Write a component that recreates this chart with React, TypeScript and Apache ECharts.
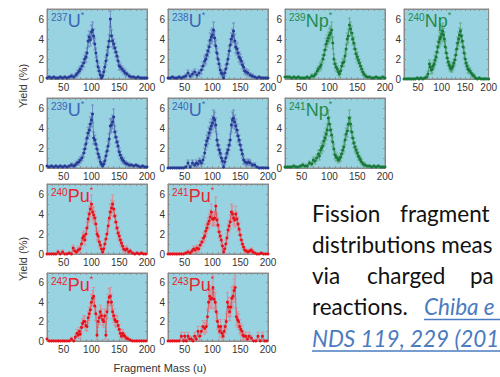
import React, { useEffect, useRef } from "react";
import * as echarts from "echarts";

// [mass, yield %, error]
const u237 = [[20,0.1,0.1],[24,0.2,0.1],[28,0.1,0.1],[32,0.2,0.1],[36,0.1,0.1],[40,0.1,0.1],[44,0.2,0.1],[48,0.1,0.1],[52,0.2,0.1],[56,0.1,0.1],[60,0.2,0.1],[64,0.3,0.2],[68,0.2,0.2],[72,0.4,0.2],[75,0.6,0.3],[78,0.8,0.3],[80,1.0,0.3],[83,1.3,0.4],[86,1.6,0.4],[88,2.0,0.4],[90,2.2,0.5],[92,2.6,0.5],[94,3.8,0.6],[96,4.2,0.6],[98,3.9,0.6],[100,4.7,0.7],[102,4.9,0.8],[104,4.3,0.7],[106,3.5,0.6],[108,2.6,0.5],[110,1.8,0.5],[112,1.2,0.4],[114,0.8,0.3],[116,0.4,0.3],[118,0.1,0.2],[120,0.3,0.2],[122,0.7,0.3],[124,1.2,0.4],[126,1.8,0.4],[128,2.4,0.5],[130,3.2,0.6],[132,3.8,0.6],[134,6.0,0.8],[136,4.3,0.6],[138,3.8,0.6],[140,3.5,0.5],[142,3.1,0.5],[144,2.7,0.5],[146,2.3,0.4],[148,1.8,0.4],[150,1.3,0.4],[152,1.2,0.3],[155,1.0,0.3],[158,0.8,0.3],[161,0.6,0.3],[164,0.5,0.2],[168,0.3,0.2],[172,0.2,0.1],[176,0.2,0.1],[180,0.1,0.1],[184,0.2,0.1],[188,0.1,0.1],[192,0.1,0.1],[196,0.1,0.1],[200,0.1,0.1]];
const u238 = [[20,0.1,0.1],[24,0.1,0.1],[28,0.2,0.1],[32,0.1,0.1],[36,0.1,0.1],[40,0.2,0.1],[44,0.1,0.1],[48,0.2,0.1],[52,0.3,0.2],[56,0.6,0.3],[60,0.3,0.2],[64,0.5,0.3],[68,0.7,0.3],[72,0.4,0.3],[76,0.6,0.3],[80,0.9,0.4],[83,1.3,0.4],[86,1.8,0.5],[88,2.0,0.5],[90,2.4,0.5],[92,2.8,0.6],[94,3.2,0.6],[96,3.9,0.7],[98,4.2,0.7],[100,4.4,0.7],[102,4.9,0.8],[104,4.1,0.7],[106,3.3,0.6],[108,2.6,0.5],[110,2.0,0.5],[112,1.5,0.4],[114,0.9,0.4],[116,0.6,0.3],[118,0.5,0.3],[120,0.1,0.2],[122,0.6,0.3],[124,1.0,0.4],[126,1.5,0.4],[128,2.0,0.5],[130,2.8,0.5],[132,3.4,0.6],[134,4.0,0.6],[136,4.3,0.7],[138,4.8,0.8],[140,3.8,0.7],[142,3.2,0.6],[144,3.0,0.6],[146,2.6,0.5],[148,2.2,0.5],[150,2.0,0.5],[152,1.8,0.4],[154,1.4,0.4],[156,1.2,0.4],[158,0.8,0.3],[161,0.7,0.3],[164,0.6,0.3],[168,0.4,0.2],[172,0.3,0.2],[176,0.2,0.1],[180,0.1,0.1],[184,0.2,0.1],[188,0.1,0.1],[192,0.1,0.1],[196,0.1,0.1],[200,0.1,0.1]];
const np239 = [[20,0.2,0.1],[24,0.2,0.1],[28,0.2,0.1],[32,0.1,0.1],[36,0.2,0.1],[40,0.1,0.1],[44,0.2,0.1],[48,0.1,0.1],[52,0.1,0.1],[56,0.1,0.1],[60,0.2,0.1],[64,0.1,0.1],[68,0.3,0.2],[72,0.3,0.2],[75,0.5,0.2],[78,0.8,0.3],[80,1.0,0.3],[83,1.2,0.4],[85,1.4,0.4],[88,2.0,0.4],[90,2.4,0.5],[92,2.9,0.5],[94,3.5,0.6],[96,3.8,0.6],[98,4.1,0.6],[100,4.4,0.7],[102,4.6,0.7],[104,4.9,0.8],[106,3.6,0.6],[108,2.0,0.5],[110,1.5,0.4],[112,1.2,0.4],[114,1.0,0.3],[116,0.7,0.3],[118,0.5,0.3],[120,0.8,0.3],[122,1.3,0.4],[124,1.6,0.4],[126,1.7,0.4],[128,2.3,0.5],[130,3.0,0.5],[132,4.0,0.6],[134,4.3,0.7],[136,5.4,0.7],[138,5.0,0.7],[140,4.6,0.7],[142,4.0,0.6],[144,3.6,0.6],[146,3.0,0.5],[148,2.5,0.5],[150,2.2,0.5],[152,1.9,0.4],[154,1.6,0.4],[156,1.3,0.4],[158,1.0,0.3],[160,0.7,0.3],[162,0.5,0.2],[165,0.3,0.2],[168,0.2,0.1],[172,0.2,0.1],[176,0.1,0.1],[180,0.1,0.1],[184,0.2,0.1],[188,0.1,0.1],[192,0.1,0.1],[196,0.2,0.1],[200,0.1,0.1]];
const np240 = [[20,0.0,0.1],[24,0.0,0.1],[28,0.0,0.1],[32,0.0,0.1],[36,0.0,0.1],[40,0.0,0.1],[44,0.0,0.1],[48,0.1,0.1],[52,0.0,0.1],[56,0.1,0.1],[60,0.0,0.1],[64,0.1,0.1],[68,0.2,0.2],[71,0.5,0.3],[74,1.5,0.4],[76,1.2,0.4],[78,0.9,0.4],[80,1.0,0.4],[82,1.3,0.4],[84,1.5,0.4],[86,1.9,0.5],[88,2.2,0.5],[90,2.7,0.6],[92,3.2,0.6],[94,3.7,0.6],[96,4.0,0.7],[98,4.2,0.7],[100,4.5,0.7],[102,4.8,0.8],[104,4.4,0.7],[106,4.0,0.7],[108,3.2,0.6],[110,2.6,0.5],[112,2.1,0.5],[114,1.7,0.4],[116,1.4,0.4],[118,1.2,0.4],[120,1.0,0.3],[122,1.1,0.4],[124,1.3,0.4],[126,1.6,0.4],[128,1.9,0.5],[130,2.4,0.5],[132,3.0,0.6],[134,3.6,0.6],[136,4.0,0.7],[138,4.4,0.7],[140,4.8,0.8],[142,4.3,0.7],[144,3.8,0.6],[146,3.2,0.6],[148,2.6,0.5],[150,2.0,0.5],[152,1.6,0.4],[154,1.3,0.4],[156,1.0,0.4],[158,0.9,0.3],[160,0.8,0.3],[163,0.6,0.3],[166,0.4,0.2],[169,0.3,0.2],[172,0.1,0.1],[176,0.0,0.1],[180,0.1,0.1],[184,0.0,0.1],[188,0.0,0.1],[192,0.0,0.1],[196,0.0,0.1],[200,0.0,0.1]];
const u239 = [[20,0.2,0.1],[24,0.1,0.1],[28,0.2,0.1],[32,0.1,0.1],[36,0.2,0.1],[40,0.1,0.1],[44,0.2,0.1],[48,0.1,0.1],[52,0.2,0.1],[56,0.1,0.1],[60,0.2,0.1],[64,0.3,0.2],[68,0.2,0.2],[71,0.3,0.2],[74,0.5,0.2],[77,0.6,0.3],[80,0.8,0.3],[83,1.0,0.3],[86,1.5,0.4],[88,1.9,0.4],[90,2.4,0.5],[92,3.0,0.5],[94,3.5,0.6],[96,3.8,0.6],[98,4.4,0.7],[100,4.8,0.7],[102,5.4,0.9],[104,3.0,0.6],[106,2.8,0.5],[108,2.4,0.5],[110,1.9,0.4],[112,1.4,0.4],[114,1.1,0.3],[116,0.6,0.3],[118,0.4,0.2],[120,0.2,0.2],[122,0.4,0.2],[124,0.7,0.3],[126,1.2,0.4],[128,1.7,0.4],[130,2.2,0.5],[132,2.9,0.5],[134,4.2,0.7],[136,4.3,0.7],[138,4.6,0.7],[140,5.1,0.8],[142,3.6,0.6],[144,3.1,0.6],[146,2.6,0.5],[148,2.2,0.5],[150,1.6,0.4],[152,1.3,0.4],[154,1.0,0.3],[156,0.8,0.3],[158,0.7,0.3],[161,0.5,0.2],[164,0.4,0.2],[168,0.3,0.2],[172,0.3,0.1],[176,0.2,0.1],[180,0.3,0.1],[184,0.2,0.1],[188,0.1,0.1],[192,0.2,0.1],[196,0.1,0.1],[200,0.1,0.1]];
const u240 = [[20,0.0,0.1],[24,0.0,0.1],[28,0.0,0.1],[32,0.0,0.1],[36,0.0,0.1],[40,0.0,0.1],[44,0.0,0.1],[48,0.0,0.1],[52,0.1,0.1],[56,0.5,0.3],[60,0.1,0.2],[64,0.5,0.3],[68,0.3,0.2],[71,0.5,0.3],[74,0.4,0.3],[77,0.7,0.3],[80,0.5,0.3],[83,0.8,0.4],[86,1.5,0.5],[88,2.3,0.5],[90,2.7,0.6],[92,3.0,0.6],[94,3.5,0.6],[96,3.9,0.7],[98,4.2,0.7],[100,4.5,0.7],[102,5.0,0.8],[104,4.8,0.8],[106,4.3,0.7],[108,2.8,0.6],[110,2.3,0.5],[112,1.8,0.5],[114,1.5,0.4],[116,1.0,0.4],[118,0.7,0.3],[120,0.1,0.2],[122,0.6,0.3],[124,1.0,0.4],[126,1.5,0.4],[128,1.8,0.5],[130,2.3,0.5],[132,2.8,0.6],[134,4.3,0.7],[136,4.8,0.8],[138,5.0,0.8],[140,4.6,0.7],[142,4.2,0.7],[144,3.8,0.6],[146,3.2,0.6],[148,2.8,0.5],[150,2.3,0.5],[152,1.8,0.5],[154,1.4,0.4],[156,0.8,0.4],[159,0.6,0.3],[162,0.5,0.3],[165,0.6,0.3],[168,0.5,0.3],[172,0.3,0.2],[176,0.3,0.2],[180,0.1,0.1],[184,0.0,0.1],[188,0.0,0.1],[192,0.0,0.1],[196,0.0,0.1],[200,0.0,0.1]];
const np241 = [[20,0.1,0.1],[24,0.1,0.1],[28,0.1,0.1],[32,0.1,0.1],[36,0.2,0.1],[40,0.1,0.1],[44,0.1,0.1],[48,0.2,0.1],[52,0.3,0.2],[56,0.2,0.1],[60,0.2,0.2],[64,0.5,0.2],[68,0.4,0.2],[71,0.8,0.3],[74,0.7,0.3],[77,1.0,0.3],[80,1.4,0.4],[82,1.2,0.4],[84,1.8,0.4],[86,2.0,0.5],[88,2.2,0.5],[90,2.7,0.5],[92,3.0,0.6],[94,3.4,0.6],[96,3.8,0.6],[98,5.0,0.8],[100,4.4,0.7],[102,3.8,0.6],[104,3.3,0.6],[106,2.6,0.5],[108,1.9,0.5],[110,1.3,0.4],[112,1.1,0.4],[114,1.0,0.3],[116,0.8,0.3],[118,0.9,0.3],[120,1.1,0.4],[122,1.4,0.4],[124,1.8,0.4],[126,2.1,0.5],[128,2.8,0.5],[130,3.4,0.6],[132,3.7,0.6],[134,4.4,0.7],[136,5.0,0.8],[138,4.4,0.7],[140,3.6,0.6],[142,3.0,0.6],[144,2.5,0.5],[146,2.1,0.5],[148,1.8,0.4],[150,1.5,0.4],[152,1.2,0.4],[154,1.0,0.3],[156,0.8,0.3],[158,0.6,0.3],[161,0.4,0.2],[164,0.3,0.2],[168,0.2,0.1],[172,0.2,0.1],[176,0.1,0.1],[180,0.2,0.1],[184,0.1,0.1],[188,0.2,0.1],[192,0.1,0.1],[196,0.1,0.1],[200,0.1,0.1]];
const pu240 = [[20,0.0,0.1],[24,0.0,0.1],[28,0.0,0.1],[32,0.0,0.1],[36,0.0,0.1],[40,0.2,0.2],[44,0.0,0.1],[48,0.2,0.2],[52,0.0,0.1],[56,0.0,0.1],[60,0.1,0.1],[64,0.0,0.1],[67,0.6,0.3],[70,0.3,0.3],[73,0.2,0.2],[76,0.4,0.3],[79,0.5,0.3],[82,1.0,0.4],[84,1.6,0.5],[86,1.8,0.5],[88,1.4,0.5],[90,2.0,0.6],[92,2.6,0.6],[94,3.5,0.7],[96,4.0,0.8],[98,4.5,0.8],[100,5.0,0.9],[102,4.2,0.8],[104,3.9,0.8],[106,3.6,0.7],[108,3.0,0.7],[110,2.0,0.6],[112,1.8,0.5],[114,1.2,0.5],[116,0.9,0.4],[118,0.5,0.3],[120,0.2,0.3],[122,0.5,0.3],[124,1.0,0.4],[126,1.5,0.5],[128,2.0,0.5],[130,2.8,0.6],[132,3.6,0.7],[134,4.2,0.8],[136,4.6,0.8],[138,5.0,0.9],[140,4.5,0.8],[142,3.8,0.7],[144,3.2,0.7],[146,2.6,0.6],[148,2.1,0.6],[150,1.8,0.5],[152,1.4,0.5],[154,1.1,0.4],[156,0.8,0.4],[158,0.5,0.3],[161,0.4,0.3],[164,0.5,0.3],[167,0.2,0.2],[170,0.3,0.2],[174,0.1,0.1],[178,0.0,0.1],[182,0.1,0.1],[186,0.0,0.1],[190,0.1,0.1],[194,0.0,0.1],[198,0.0,0.1]];
const pu241 = [[20,0.0,0.1],[24,0.0,0.1],[28,0.0,0.1],[32,0.0,0.1],[36,0.0,0.1],[40,0.0,0.1],[44,0.0,0.1],[48,0.0,0.1],[52,0.1,0.1],[56,0.2,0.2],[60,0.1,0.1],[63,0.3,0.2],[66,0.5,0.3],[69,0.4,0.3],[72,0.6,0.3],[75,0.5,0.3],[78,0.9,0.4],[81,1.2,0.4],[84,1.6,0.5],[86,1.8,0.5],[88,2.3,0.6],[90,2.6,0.6],[92,3.0,0.6],[94,3.3,0.7],[96,3.7,0.7],[98,4.2,0.8],[100,3.5,0.7],[102,3.5,0.7],[104,3.6,0.7],[106,4.8,0.9],[108,3.4,0.7],[110,2.9,0.7],[112,2.2,0.6],[114,1.8,0.5],[116,1.4,0.5],[118,0.8,0.4],[120,0.2,0.3],[122,0.5,0.3],[124,1.0,0.4],[126,1.6,0.5],[128,2.4,0.6],[130,2.8,0.6],[132,3.2,0.7],[134,4.2,0.8],[136,4.0,0.8],[138,3.6,0.7],[140,3.4,0.7],[142,4.0,0.8],[144,3.5,0.7],[146,3.0,0.7],[148,2.5,0.6],[150,1.9,0.5],[152,1.4,0.5],[154,1.0,0.4],[156,0.7,0.3],[158,0.4,0.3],[161,0.3,0.2],[164,0.2,0.2],[167,0.3,0.2],[170,0.4,0.2],[173,0.2,0.2],[176,0.1,0.1],[180,0.0,0.1],[184,0.0,0.1],[188,0.1,0.1],[192,0.0,0.1],[196,0.0,0.1],[200,0.0,0.1]];
const pu242 = [[20,0.2,0.2],[24,0.0,0.1],[28,0.0,0.1],[32,0.0,0.1],[36,0.0,0.1],[40,0.0,0.1],[44,0.0,0.1],[48,0.0,0.1],[52,0.0,0.1],[56,0.0,0.1],[60,0.0,0.1],[64,0.2,0.2],[68,0.0,0.1],[71,0.4,0.3],[74,0.8,0.4],[76,0.6,0.3],[78,1.0,0.4],[80,0.7,0.4],[82,1.4,0.5],[84,1.8,0.5],[86,2.0,0.6],[88,2.0,0.6],[90,1.6,0.5],[92,1.5,0.5],[94,2.4,0.6],[96,2.8,0.7],[98,3.2,0.7],[100,4.0,0.8],[102,4.4,0.8],[104,4.6,0.9],[106,3.6,0.8],[108,2.8,0.7],[110,0.6,0.4],[112,2.0,0.6],[114,2.4,0.7],[116,3.0,0.7],[118,2.6,0.7],[120,2.2,0.6],[122,2.0,0.6],[124,2.6,0.7],[126,0.6,0.4],[128,3.0,0.7],[130,4.0,0.8],[132,4.5,0.9],[134,4.6,0.9],[136,4.0,0.8],[138,3.0,0.7],[140,2.6,0.7],[142,2.2,0.6],[144,2.0,0.6],[146,2.0,0.6],[148,1.6,0.5],[150,1.2,0.5],[152,0.8,0.4],[154,0.5,0.3],[156,0.8,0.4],[158,0.6,0.3],[160,0.5,0.3],[163,0.3,0.2],[166,0.2,0.2],[170,0.1,0.1],[174,0.0,0.1],[178,0.0,0.1],[182,0.0,0.1],[186,0.0,0.1],[190,0.0,0.1],[194,0.0,0.1],[198,0.0,0.1]];
const pu243 = [[20,0.0,0.1],[24,0.0,0.1],[28,0.0,0.1],[32,0.0,0.1],[36,0.0,0.1],[40,0.0,0.1],[44,0.5,0.4],[48,0.0,0.1],[50,0.5,0.4],[53,0.0,0.1],[56,0.5,0.4],[59,0.2,0.2],[62,0.2,0.3],[65,0.0,0.1],[68,0.5,0.4],[71,0.2,0.3],[74,1.0,0.5],[77,0.5,0.4],[80,1.0,0.5],[83,1.5,0.6],[86,1.3,0.6],[89,1.5,0.6],[91,2.5,0.8],[93,4.0,1.0],[95,4.6,1.1],[97,4.3,1.0],[99,4.4,1.0],[101,5.5,1.2],[103,4.3,1.0],[105,4.0,1.0],[107,3.0,0.9],[109,2.0,0.8],[111,1.5,0.7],[113,1.0,0.6],[115,1.5,0.7],[117,0.8,0.5],[119,0.5,0.4],[121,1.0,0.6],[123,1.5,0.7],[125,2.0,0.8],[127,4.0,1.0],[129,3.5,1.0],[131,3.0,0.9],[133,3.5,1.0],[135,4.4,1.1],[137,4.6,1.1],[139,5.2,1.2],[141,5.5,1.2],[143,2.5,0.9],[145,2.2,0.8],[147,2.0,0.8],[149,1.5,0.7],[151,1.2,0.6],[153,1.0,0.6],[155,0.6,0.5],[157,0.5,0.4],[160,0.5,0.4],[163,0.2,0.3],[166,0.5,0.4],[170,0.3,0.3],[174,0.0,0.1],[178,0.0,0.1],[182,0.5,0.4],[186,0.0,0.1],[190,0.5,0.4],[194,0.0,0.1],[198,0.0,0.1]];

const xLabels = [50, 100, 150, 200];
const yLabels = [0, 2, 4, 6];

const ELEMENT_STYLE: Record<string, { label: string; mark: string; err: string }> = {
  U: { label: "#3b66b6", mark: "#263c94", err: "#6474b8" },
  Np: { label: "#1f8c4c", mark: "#16783a", err: "#58a26f" },
  Pu: { label: "#e8262e", mark: "#e5121c", err: "#ee7a80" },
};

const COLS = [47, 168, 285, 404];
const ROWS = [
  { top: 9, h: 70 },
  { top: 98, h: 70 },
  { top: 184, h: 70 },
  { top: 273, h: 68 },
];

const panels = [
  { iso: "237", el: "U", data: u237, c: 0, r: 0 },
  { iso: "238", el: "U", data: u238, c: 1, r: 0 },
  { iso: "239", el: "Np", data: np239, c: 2, r: 0 },
  { iso: "240", el: "Np", data: np240, c: 3, r: 0 },
  { iso: "239", el: "U", data: u239, c: 0, r: 1 },
  { iso: "240", el: "U", data: u240, c: 1, r: 1 },
  { iso: "241", el: "Np", data: np241, c: 2, r: 1 },
  { iso: "240", el: "Pu", data: pu240, c: 0, r: 2 },
  { iso: "241", el: "Pu", data: pu241, c: 1, r: 2 },
  { iso: "242", el: "Pu", data: pu242, c: 0, r: 3 },
  { iso: "243", el: "Pu", data: pu243, c: 1, r: 3 },
];

const AX = "#8a8a8a";
const SANS = "Liberation Sans, Arial, sans-serif";
const BODY_FONT = "Lato, Carlito, Calibri, sans-serif";

function buildOption() {
  const grid: any[] = [];
  const xAxis: any[] = [];
  const yAxis: any[] = [];
  const series: any[] = [];
  const graphic: any[] = [];

  panels.forEach((p, i) => {
    const left = COLS[p.c];
    const { top, h } = ROWS[p.r];
    const st = ELEMENT_STYLE[p.el];
    grid.push({
      left, top, width: 100, height: h,
      show: true, backgroundColor: "#98d3e1", borderColor: AX, borderWidth: 1,
    });
    const tick = { show: true, inside: true, length: 2, lineStyle: { color: AX, width: 0.8 } };
    xAxis.push({
      gridIndex: i, type: "value", min: 20, max: 200, interval: 10, position: "bottom",
      axisLine: { show: true, onZero: false, lineStyle: { color: AX } },
      axisTick: tick,
      axisLabel: {
        fontSize: 10, color: "#333", margin: 3, fontFamily: SANS,
        formatter: (v: number) => (xLabels.includes(v) ? String(v) : ""),
      },
      splitLine: { show: false },
    });
    xAxis.push({
      gridIndex: i, type: "value", min: 20, max: 200, interval: 10, position: "top",
      axisLine: { show: true, onZero: false, lineStyle: { color: AX } },
      axisTick: tick, axisLabel: { show: false }, splitLine: { show: false },
    });
    yAxis.push({
      gridIndex: i, type: "value", min: 0, max: 7, interval: 1, position: "left",
      axisLine: { show: true, onZero: false, lineStyle: { color: AX } },
      axisTick: tick,
      axisLabel: {
        fontSize: 10, color: "#333", margin: 3, fontFamily: SANS,
        formatter: (v: number) => (yLabels.includes(v) ? String(v) : ""),
      },
      splitLine: { show: false },
    });
    yAxis.push({
      gridIndex: i, type: "value", min: 0, max: 7, interval: 1, position: "right",
      axisLine: { show: true, onZero: false, lineStyle: { color: AX } },
      axisTick: tick, axisLabel: { show: false }, splitLine: { show: false },
    });

    series.push({
      type: "custom",
      xAxisIndex: 2 * i, yAxisIndex: 2 * i,
      data: p.data,
      encode: { x: 0, y: 1 },
      clip: true,
      renderItem: (_params: any, api: any) => {
        const x = api.value(0), y = api.value(1), e = api.value(2);
        const t = api.coord([x, Math.min(7, y + e)]);
        const b = api.coord([x, Math.max(0, y - e)]);
        const c = 1.6;
        const s = { stroke: st.err, lineWidth: 0.7 };
        return {
          type: "group",
          children: [
            { type: "line", shape: { x1: t[0], y1: t[1], x2: b[0], y2: b[1] }, style: s },
            { type: "line", shape: { x1: t[0] - c, y1: t[1], x2: t[0] + c, y2: t[1] }, style: s },
            { type: "line", shape: { x1: b[0] - c, y1: b[1], x2: b[0] + c, y2: b[1] }, style: s },
          ],
        };
      },
      z: 2,
    });
    series.push({
      type: "line",
      xAxisIndex: 2 * i, yAxisIndex: 2 * i,
      data: p.data.map((d) => [d[0], d[1]]),
      symbol: "circle", symbolSize: 3, showAllSymbol: true,
      lineStyle: { color: st.mark, width: 0.6, opacity: 0.8 },
      itemStyle: { color: st.mark },
      z: 3,
    });

    graphic.push({
      type: "text",
      x: left + 4, y: top + 1,
      z: 10,
      style: {
        text: `{a|${p.iso}}{b|${p.el}}{c|*}`,
        verticalAlign: "top",
        rich: {
          a: { fontSize: 10, fill: st.label, fontFamily: SANS, verticalAlign: "top", padding: [2, 0, 0, 0] },
          b: { fontSize: 18, fill: st.label, fontFamily: SANS, padding: [2, 0, 0, 0] },
          c: { fontSize: 9, fill: st.label, fontFamily: SANS, verticalAlign: "top", padding: [0, 0, 0, 0] },
        },
      },
    });
  });

  // axis titles
  graphic.push(
    { type: "text", x: 23, y: 86, rotation: Math.PI / 2, style: { text: "Yield (%)", fontSize: 11, fill: "#333", fontFamily: SANS, align: "center", verticalAlign: "middle" } },
    { type: "text", x: 23, y: 259, rotation: Math.PI / 2, style: { text: "Yield (%)", fontSize: 11, fill: "#333", fontFamily: SANS, align: "center", verticalAlign: "middle" } },
    { type: "text", x: 160, y: 368, style: { text: "Fragment Mass (u)", fontSize: 11, fill: "#333", fontFamily: SANS, align: "center", verticalAlign: "middle" } }
  );

  // caption words (justified text, cropped at the right edge as in the slide)
  const fs = 22.5;
  const mid = (base: number) => base - 0.36 * fs;
  const black = { fontSize: fs, fill: "#111", fontFamily: BODY_FONT, verticalAlign: "middle" };
  const blue = { fontSize: fs, fill: "#4a7bbf", fontFamily: BODY_FONT, fontStyle: "italic", verticalAlign: "middle" };
  const words: [string, number, number, any][] = [
    ["Fission", 312, 222, black],
    ["fragment", 400, 222, black],
    ["distributions meas", 312, 253, black],
    ["via", 312, 284, black],
    ["charged", 367, 284, black],
    ["pa", 470, 284, black],
    ["reactions.", 312, 315, black],
    ["Chiba e", 424, 315, blue],
    ["NDS 119, 229 (201", 312, 347, blue],
  ];
  words.forEach(([t, x, base, s]) => {
    graphic.push({ type: "text", x, y: mid(base), style: { ...s, text: t } });
  });
  graphic.push(
    { type: "line", shape: { x1: 424, y1: 319.5, x2: 500, y2: 319.5 }, style: { stroke: "#4a7bbf", lineWidth: 1.3 } },
    { type: "line", shape: { x1: 312, y1: 351, x2: 500, y2: 351 }, style: { stroke: "#4a7bbf", lineWidth: 1.3 } }
  );

  return { animation: false, backgroundColor: "#ffffff", grid, xAxis, yAxis, series, graphic };
}

export default function App() {
  const ref = useRef<HTMLDivElement>(null);
  useEffect(() => {
    if (!ref.current) return;
    const chart = echarts.init(ref.current, undefined, { renderer: "svg" });
    chart.setOption(buildOption() as any);
    return () => chart.dispose();
  }, []);
  return <div ref={ref} style={{ position: "absolute", left: 0, top: 0, width: 500, height: 377 }} />;
}
